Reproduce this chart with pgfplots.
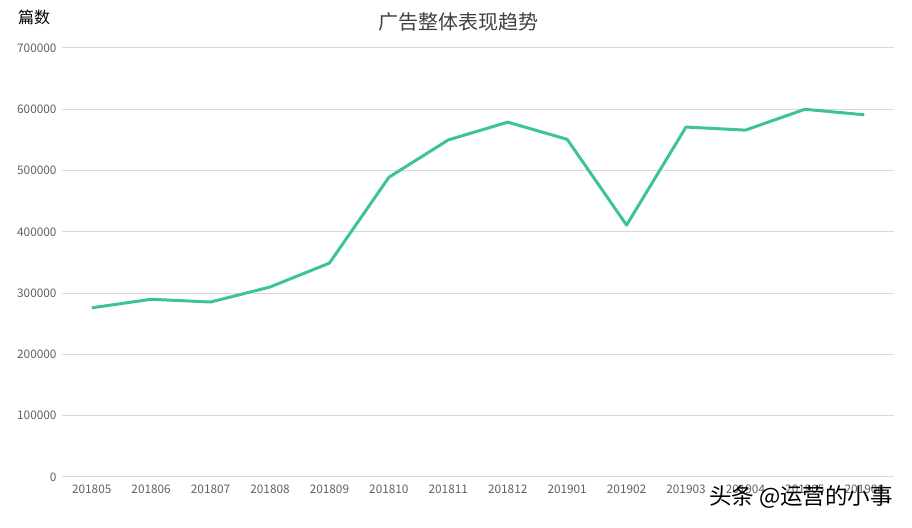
\documentclass[border=0pt]{standalone}
\usepackage{pgfplots}
\pgfplotsset{compat=1.18}
\usepackage{fontspec}
\setmainfont{Noto Sans CJK SC}
\definecolor{linegreen}{RGB}{60,196,148}
\definecolor{gridgray}{RGB}{217,217,217}
\definecolor{ticktext}{RGB}{96,96,96}
\definecolor{titletext}{RGB}{64,64,64}
\begin{document}
\begin{tikzpicture}[x=1pt,y=1pt]
\useasboundingbox (0,0) rectangle (912,527);
\begin{axis}[
    at={(62pt,50pt)}, anchor=south west,
    scale only axis, width=832pt, height=429pt,
    xmin=-0.5, xmax=13.5,
    ymin=0, ymax=700000,
    axis line style={draw=none},
    major tick length=0pt,
    ytick={0,100000,...,700000},
    ymajorgrids, grid style={gridgray, line width=1pt},
    xtick={0,...,13},
    xticklabels={201805,201806,201807,201808,201809,201810,201811,201812,201901,201902,201903,201904,201905,201906},
    tick label style={font=\fontsize{11.8}{13}\selectfont, text=ticktext},
    yticklabel style={xshift=-2pt},
    xticklabel style={yshift=-4pt},
    scaled y ticks=false,
    /pgf/number format/.cd, fixed, 1000 sep={}, assume math mode=true,
]
\addplot[linegreen, line width=3pt, line join=round] coordinates {
    (0,276000) (1,290000) (2,285500) (3,310000) (4,349000) (5,489000)
    (6,550000) (7,579000) (8,551000) (9,411000) (10,571000) (11,566000)
    (12,600000) (13,591000)
};
\end{axis}
\node[anchor=center, text=black, font=\fontsize{16}{18}\selectfont] at (34,510) {篇数};
\node[anchor=center, text=titletext, font=\fontsize{20}{22}\selectfont] at (458,505) {广告整体表现趋势};
\node[anchor=center, text=black, font=\fontsize{22.5}{24}\selectfont] at (801,30) {头条 @运营的小事};
\end{tikzpicture}
\end{document}
